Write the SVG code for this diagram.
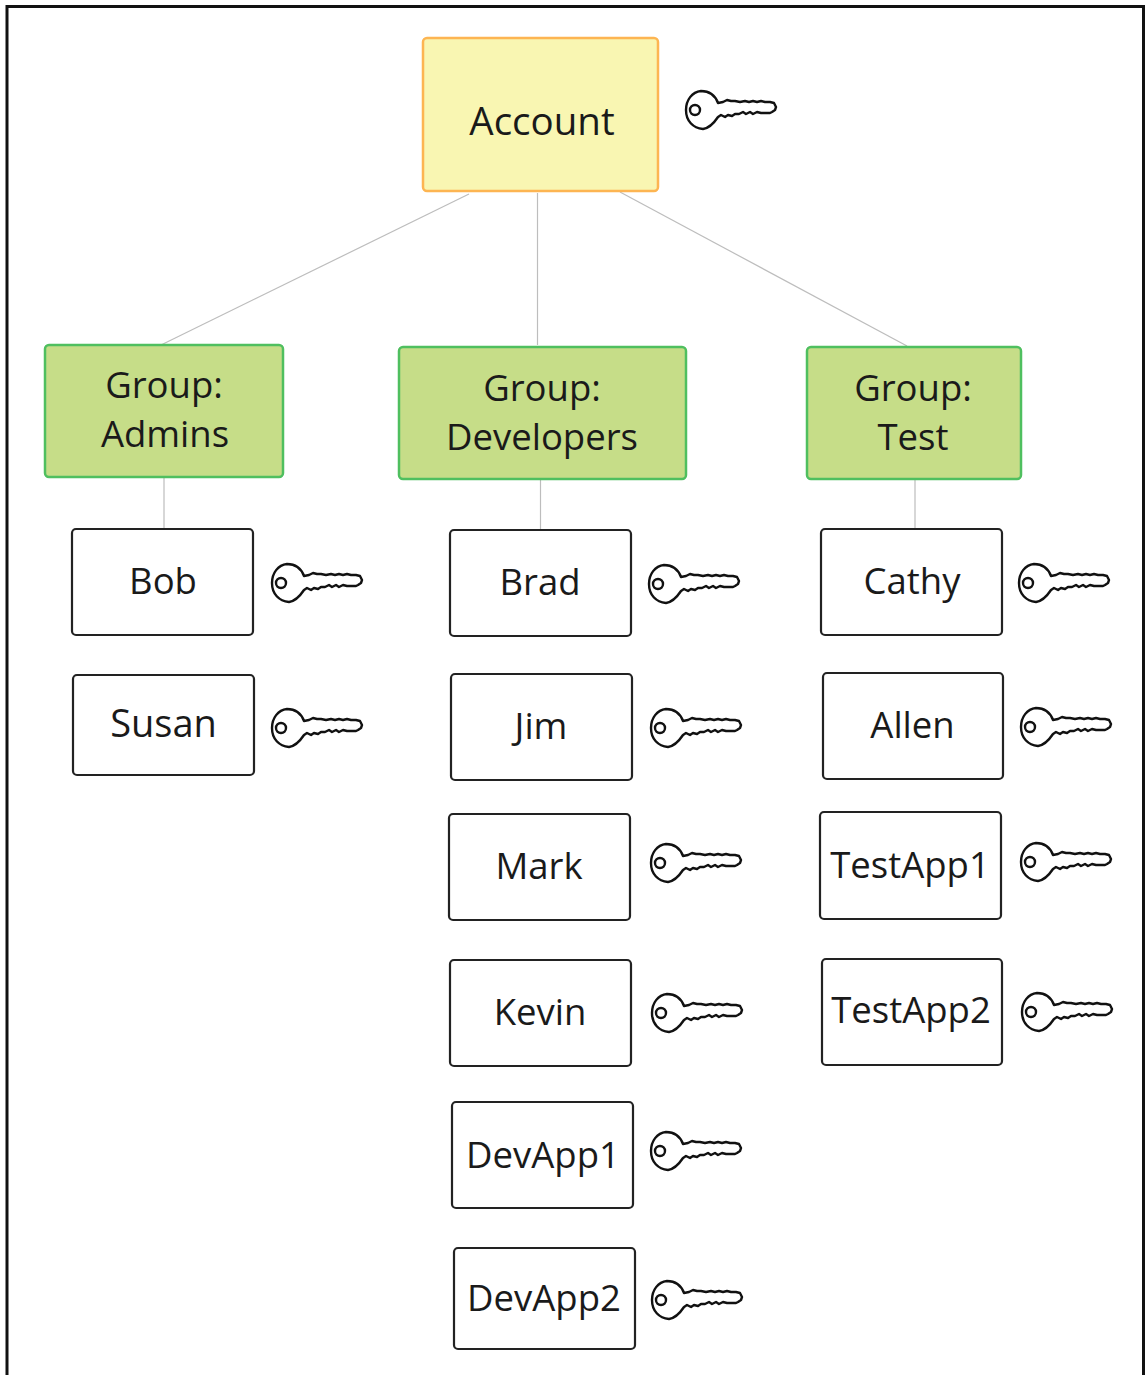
<svg xmlns="http://www.w3.org/2000/svg" width="1147" height="1375" viewBox="0 0 1147 1375">
<style>
text{font-family:"Open Sans","Noto Sans","Liberation Sans",sans-serif;font-size:36.500px;fill:#1a1a1a;text-anchor:middle}
.u{fill:#fff;stroke:#222;stroke-width:2.200}
.g{fill:#c6dd88;stroke:#4fbf5f;stroke-width:2.500}
.a{fill:#f9f6b2;stroke:#fdb552;stroke-width:2.500}
.c{fill:none;stroke:#bdbdbd;stroke-width:1.200}
.k{fill:none;stroke:#111;stroke-width:2.400;stroke-linejoin:round}
</style>
<defs>
<g id="key">
<path class="k" d="M33 13 C30 5 24 1 16 1 C7 2 1 10 1 20 C1 31 8 38 18 39 C25 38 29 33 33 27 L36 25 L40 27 L43 25 L47 26 L50 24 L54 24 L58 22 L61 24 L65 22 L68 24 L72 22 L76 23 L81 23 L85 23 L87 22 L90 20 L91 17 L89 13 L85 12 L80 12 L76 11 L72 12 L68 11 L64 12 L60 11 L55 12 L50 11 L46 11 L42 10 L38 12 Z"/>
<circle class="k" cx="10" cy="20" r="5"/>
</g>
</defs>
<rect x="0" y="0" width="1147" height="1375" fill="#fff"/>
<path d="M7 1375V6.500H1143.500V1375" fill="none" stroke="#111" stroke-width="3"/>
<g id="connectors">
<path class="c" d="M469 194L161 345"/>
<path class="c" d="M537.500 193V345"/>
<path class="c" d="M620 192L907 346"/>
<path class="c" d="M164 478V528"/>
<path class="c" d="M540.500 480V529"/>
<path class="c" d="M915 480V528"/>
</g>
<g id="account"><rect class="a" x="423" y="38" width="235" height="153" rx="4"/><text x="542" y="135" style="font-size:38.500px">Account</text></g>
<g id="group-admins"><rect class="g" x="45" y="345" width="238" height="132" rx="4"/><text x="164" y="398">Group:</text><text x="165" y="447">Admins</text></g>
<g id="group-developers"><rect class="g" x="399" y="347" width="287" height="132" rx="4"/><text x="542" y="401">Group:</text><text x="542" y="450">Developers</text></g>
<g id="group-test"><rect class="g" x="807" y="347" width="214" height="132" rx="4"/><text x="913" y="401">Group:</text><text x="913" y="450">Test</text></g>
<g id="bob"><rect class="u" x="72" y="529" width="181" height="106" rx="4"/><text x="163" y="594">Bob</text></g>
<g id="susan"><rect class="u" x="73" y="675" width="181" height="100" rx="4"/><text x="163.500" y="737" style="font-size:38px">Susan</text></g>
<g id="brad"><rect class="u" x="450" y="530" width="181" height="106" rx="4"/><text x="540" y="595">Brad</text></g>
<g id="jim"><rect class="u" x="451" y="674" width="181" height="106" rx="4"/><text x="541" y="739">Jim</text></g>
<g id="mark"><rect class="u" x="449" y="814" width="181" height="106" rx="4"/><text x="539" y="879">Mark</text></g>
<g id="kevin"><rect class="u" x="450" y="960" width="181" height="106" rx="4"/><text x="540" y="1025">Kevin</text></g>
<g id="devapp1"><rect class="u" x="452" y="1102" width="181" height="106" rx="4"/><text x="543" y="1168">DevApp1</text></g>
<g id="devapp2"><rect class="u" x="454" y="1248" width="181" height="101" rx="4"/><text x="544" y="1311">DevApp2</text></g>
<g id="cathy"><rect class="u" x="821" y="529" width="181" height="106" rx="4"/><text x="912" y="594">Cathy</text></g>
<g id="allen"><rect class="u" x="823" y="673" width="180" height="106" rx="4"/><text x="912.500" y="738">Allen</text></g>
<g id="testapp1"><rect class="u" x="820" y="812" width="181" height="107" rx="4"/><text x="910" y="878">TestApp1</text></g>
<g id="testapp2"><rect class="u" x="822" y="959" width="180" height="106" rx="4"/><text x="911" y="1023">TestApp2</text></g>
<g id="keys">
<use href="#key" x="685" y="90"/>
<use href="#key" x="271" y="563"/>
<use href="#key" x="271" y="708"/>
<use href="#key" x="648" y="564"/>
<use href="#key" x="650" y="708"/>
<use href="#key" x="650" y="843"/>
<use href="#key" x="651" y="993"/>
<use href="#key" x="650" y="1131"/>
<use href="#key" x="651" y="1280"/>
<use href="#key" x="1018" y="563"/>
<use href="#key" x="1020" y="707"/>
<use href="#key" x="1020" y="842"/>
<use href="#key" x="1021" y="992"/>
</g>
</svg>
